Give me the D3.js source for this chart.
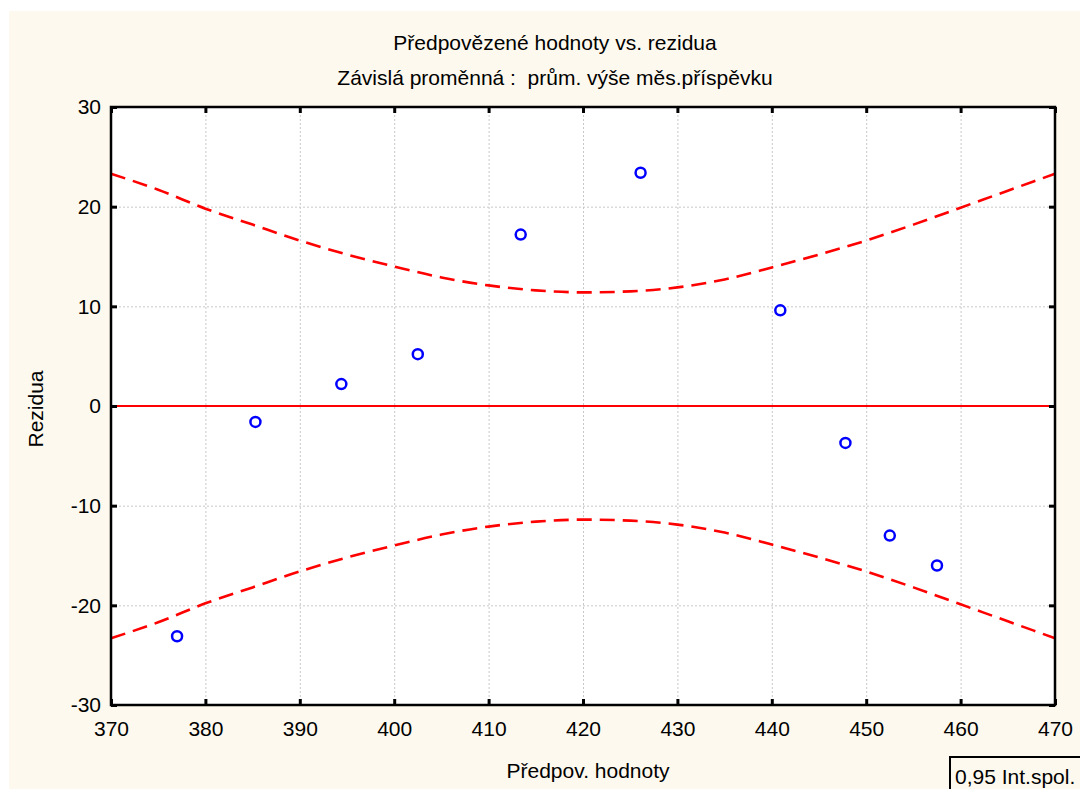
<!DOCTYPE html>
<html>
<head>
<meta charset="utf-8">
<script src="https://cdn.jsdelivr.net/npm/d3@7"></script>
<style>
  body { margin: 0; background: #fff; }
  text { font-family: "Liberation Sans", Arial, sans-serif; fill: #000; white-space: pre; }
</style>
</head>
<body>
<div id="chart-area"></div>
<script>
// Predicted values vs residuals
const predicted = [377.0, 385.3, 394.4, 402.5, 413.4, 426.1, 440.9, 447.8, 452.5, 457.5]
const residuals = [-23.1, -1.6, 2.2, 5.2, 17.2, 23.4, 9.6, -3.7, -13.0, -16.0]

// 0.95 confidence band (upper half-width)
const bandX = [370, 375, 380, 385, 390, 395, 400, 405, 410, 415, 420, 425, 430, 435, 440, 445, 450, 455, 460, 465, 470]
const bandUpper = [23.3, 21.7, 19.8, 18.2, 16.6, 15.2, 14.0, 12.9, 12.1, 11.6, 11.4, 11.5, 11.9, 12.7, 13.9, 15.2, 16.6, 18.2, 19.9, 21.6, 23.3]
const bandLower = bandUpper.map(v => -v)

const xTicks = [370, 380, 390, 400, 410, 420, 430, 440, 450, 460, 470]
const yTicks = [-30, -20, -10, 0, 10, 20, 30]

const W = 1080, H = 789
const PLOT = { LEFT: 111, RIGHT: 1055, TOP: 107, BOTTOM: 705 }

const svg = d3.select("#chart-area").append("svg")
  .attr("width", W)
  .attr("height", H)

// cream backdrop
svg.append("rect")
  .attr("x", 9).attr("y", 11)
  .attr("width", W - 9).attr("height", H - 11)
  .attr("fill", "#fdf9ee")

const x = d3.scaleLinear().domain([370, 470]).range([PLOT.LEFT, PLOT.RIGHT])
const y = d3.scaleLinear().domain([-30, 30]).range([PLOT.BOTTOM, PLOT.TOP])

svg.append("rect")
  .attr("x", PLOT.LEFT).attr("y", PLOT.TOP)
  .attr("width", PLOT.RIGHT - PLOT.LEFT).attr("height", PLOT.BOTTOM - PLOT.TOP)
  .attr("fill", "#fff")

// grid
const grid = svg.append("g")
  .attr("stroke", "#c8c8c8")
  .attr("stroke-width", 1)
  .attr("stroke-dasharray", "2,2")
grid.selectAll(".gx").data(xTicks.slice(1, -1)).enter().append("line")
  .attr("x1", d => x(d) + 0.5).attr("x2", d => x(d) + 0.5)
  .attr("y1", PLOT.TOP).attr("y2", PLOT.BOTTOM)
grid.selectAll(".gy").data(yTicks.slice(1, -1)).enter().append("line")
  .attr("y1", d => y(d) + 0.5).attr("y2", d => y(d) + 0.5)
  .attr("x1", PLOT.LEFT).attr("x2", PLOT.RIGHT)

// confidence band
const line = d3.line()
  .x((d, i) => x(bandX[i]))
  .y(d => y(d))
  .curve(d3.curveMonotoneX)
;[bandUpper, bandLower].forEach(band => {
  svg.append("path")
    .attr("d", line(band))
    .attr("fill", "none")
    .attr("stroke", "#ff0000")
    .attr("stroke-width", 2.6)
    .attr("stroke-dasharray", "15,8")
})

// zero line
svg.append("line")
  .attr("x1", PLOT.LEFT).attr("x2", PLOT.RIGHT)
  .attr("y1", y(0)).attr("y2", y(0))
  .attr("stroke", "#ff0000")
  .attr("stroke-width", 2)

// points
svg.selectAll("circle").data(predicted).enter().append("circle")
  .attr("cx", d => x(d))
  .attr("cy", (d, i) => y(residuals[i]))
  .attr("r", 5)
  .attr("fill", "none")
  .attr("stroke", "#0000ff")
  .attr("stroke-width", 2.5)

// axes: ticks point inward, plain hyphen for negatives
const fmt = d => String(d)
const xAxisB = d3.axisBottom(x).tickValues(xTicks).tickSizeInner(-6).tickSizeOuter(0).tickPadding(16).tickFormat(fmt)
const xAxisT = d3.axisTop(x).tickValues(xTicks).tickSizeInner(-6).tickSizeOuter(0).tickFormat("")
const yAxisL = d3.axisLeft(y).tickValues(yTicks).tickSizeInner(-6).tickSizeOuter(0).tickPadding(10).tickFormat(fmt)
const yAxisR = d3.axisRight(y).tickValues(yTicks).tickSizeInner(-6).tickSizeOuter(0).tickFormat("")

const axes = [
  svg.append("g").attr("transform", `translate(0, ${PLOT.BOTTOM})`).call(xAxisB),
  svg.append("g").attr("transform", `translate(0, ${PLOT.TOP})`).call(xAxisT),
  svg.append("g").attr("transform", `translate(${PLOT.LEFT}, 0)`).call(yAxisL),
  svg.append("g").attr("transform", `translate(${PLOT.RIGHT}, 0)`).call(yAxisR)
]
axes.forEach(a => {
  a.select(".domain").remove()
  a.selectAll(".tick line").attr("stroke", "#000").attr("stroke-width", 3)
  a.selectAll(".tick text").attr("font-size", "21px").attr("font-family", "Liberation Sans, Arial, sans-serif")
})

// frame
svg.append("rect")
  .attr("x", PLOT.LEFT).attr("y", PLOT.TOP)
  .attr("width", PLOT.RIGHT - PLOT.LEFT).attr("height", PLOT.BOTTOM - PLOT.TOP)
  .attr("fill", "none")
  .attr("stroke", "#000")
  .attr("stroke-width", 2.5)

// titles
svg.append("text")
  .attr("x", 555).attr("y", 50)
  .attr("text-anchor", "middle")
  .attr("font-size", "21px")
  .text("Předpovězené hodnoty vs. rezidua")
svg.append("text")
  .attr("x", 555).attr("y", 85)
  .attr("text-anchor", "middle")
  .attr("font-size", "21px")
  .text("Závislá proměnná :  prům. výše měs.příspěvku")
svg.append("text")
  .attr("x", 588).attr("y", 778)
  .attr("text-anchor", "middle")
  .attr("font-size", "21px")
  .text("Předpov. hodnoty")
svg.append("text")
  .attr("transform", "translate(43, 409) rotate(-90)")
  .attr("text-anchor", "middle")
  .attr("font-size", "21px")
  .text("Rezidua")

// legend box
svg.append("rect")
  .attr("x", 950).attr("y", 757)
  .attr("width", 140).attr("height", 40)
  .attr("fill", "none")
  .attr("stroke", "#000")
  .attr("stroke-width", 2)
svg.append("text")
  .attr("x", 955).attr("y", 784)
  .attr("font-size", "21px")
  .text("0,95 Int.spol.")
</script>
</body>
</html>
